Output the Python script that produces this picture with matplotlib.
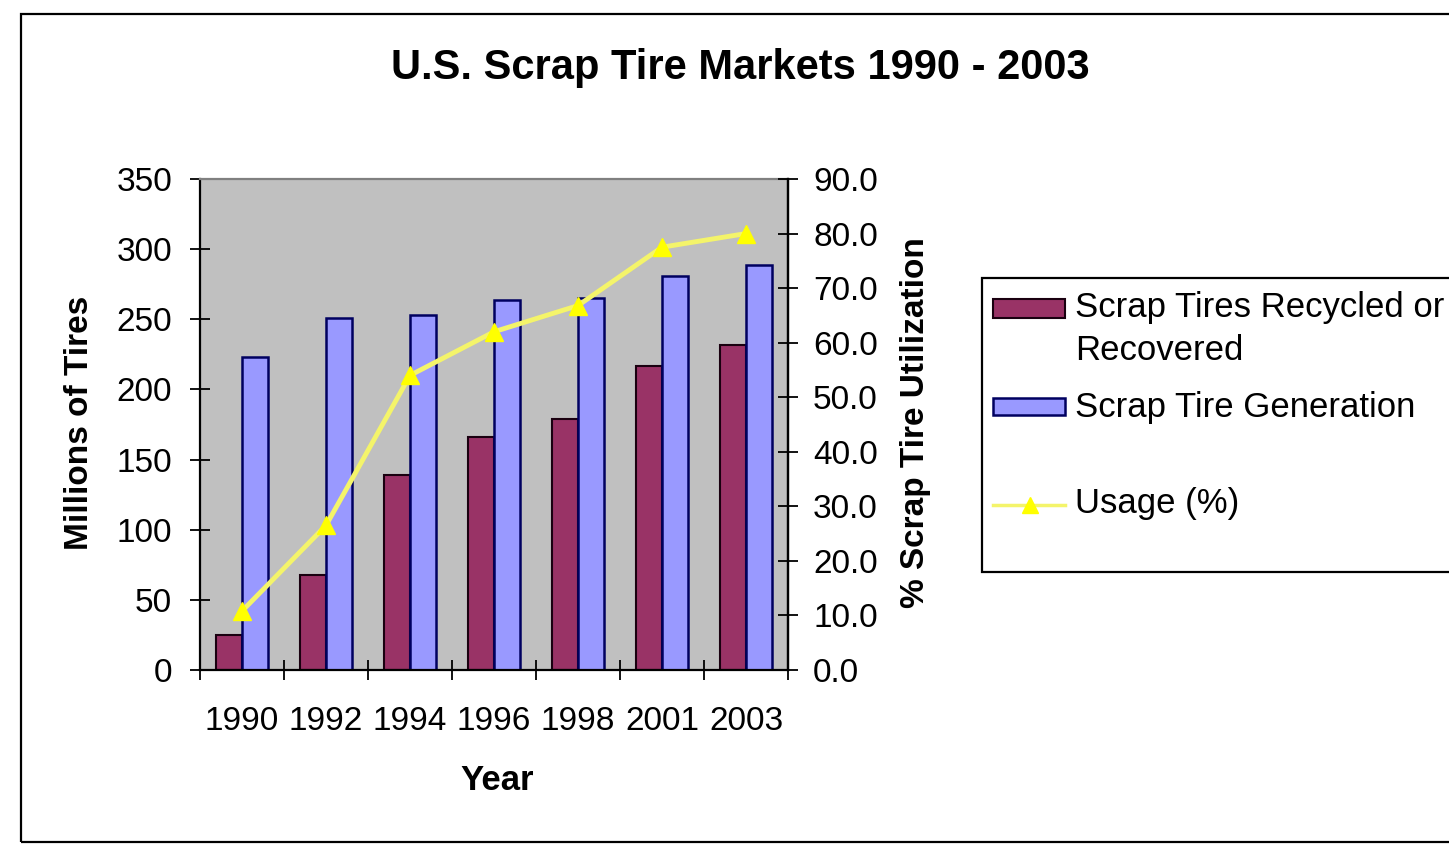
import matplotlib
matplotlib.use("Agg")
import matplotlib.pyplot as plt
from matplotlib.patches import Rectangle
from matplotlib.lines import Line2D

plt.rcParams['font.family'] = ['Liberation Sans', 'DejaVu Sans']

# Data
years = ['1990', '1992', '1994', '1996', '1998', '2001', '2003']
recycled = [25, 68, 139, 166, 179, 217, 232]          # millions of tires
generated = [223, 251, 253, 264, 265, 281, 289]       # millions of tires
usage_pct = [10.8, 26.5, 54.0, 62.0, 66.8, 77.5, 80.0]
left_ticks = [0, 50, 100, 150, 200, 250, 300, 350]
right_ticks = [0, 10, 20, 30, 40, 50, 60, 70, 80, 90]

RED = '#993366'
BLUE = '#9999FF'
YELLOW = '#FFFF00'
LINE_YELLOW = '#F4F46A'

W, H = 1449, 844
fig = plt.figure(figsize=(W / 100, H / 100), dpi=100)
fig.patch.set_facecolor('white')

def fx(px):
    return px / W

def fy(py):
    return 1 - py / H

# outer chart border
fig.patches.append(Rectangle((fx(21), fy(842)), 1.2, fy(14) - fy(842),
                             transform=fig.transFigure, fill=False,
                             edgecolor='black', linewidth=1.6, clip_on=False))

ax = fig.add_axes([fx(200), fy(670), fx(788) - fx(200), fy(179) - fy(670)])
ax.set_facecolor('#C0C0C0')

x = list(range(len(years)))
bw = 0.315
ax.bar([i - bw / 2 for i in x], recycled, width=bw, color=RED,
       edgecolor='#1a0010', linewidth=1.5, zorder=2)
ax.bar([i + bw / 2 for i in x], generated, width=bw, color=BLUE,
       edgecolor='#000060', linewidth=1.8, zorder=2)

ax.set_xlim(-0.5, len(years) - 0.5)
ax.set_ylim(0, 350)
ax.set_yticks(left_ticks)
ax.set_yticklabels([str(v) for v in left_ticks])
ax.tick_params(axis='y', direction='inout', length=14, width=1.3,
               pad=13, labelsize=24, colors='black')

ax.set_xticks(x)
ax.set_xticklabels(years)
ax.tick_params(axis='x', which='major', length=0, pad=26, labelsize=24)
ax.set_xticks([i - 0.5 for i in range(len(years) + 1)], minor=True)
ax.tick_params(axis='x', which='minor', direction='inout', length=14, width=1.3)

for s in ('left', 'bottom', 'right'):
    ax.spines[s].set_color('black')
    ax.spines[s].set_linewidth(1.6)
ax.spines['top'].set_color('#808080')
ax.spines['top'].set_linewidth(1.6)

ax2 = ax.twinx()
ax2.plot(x, usage_pct, color=LINE_YELLOW, linewidth=3.5, marker='^',
         markersize=13, markerfacecolor=YELLOW, markeredgecolor=YELLOW,
         zorder=3)
ax2.set_ylim(0, 90)
ax2.set_yticks(right_ticks)
ax2.set_yticklabels([f'{v:.1f}' for v in right_ticks])
ax2.tick_params(axis='y', direction='inout', length=14, width=1.3,
                pad=11, labelsize=24, colors='black')
for s in ax2.spines.values():
    s.set_visible(False)
ax2.spines['right'].set_visible(True)
ax2.spines['right'].set_color('black')
ax2.spines['right'].set_linewidth(1.6)

# titles and axis labels
fig.text(fx(740), fy(68), 'U.S. Scrap Tire Markets 1990 - 2003',
         ha='center', va='center', fontsize=30, fontweight='bold')
fig.text(fx(80), fy(423), 'Millions of Tires', rotation=90,
         ha='center', va='center', fontsize=24, fontweight='bold')
fig.text(fx(915), fy(423), '% Scrap Tire Utilization', rotation=90,
         ha='center', va='center', fontsize=24, fontweight='bold')
fig.text(fx(497), fy(780), 'Year', ha='center', va='center',
         fontsize=25, fontweight='bold')

# legend box
fig.patches.append(Rectangle((fx(982), fy(572)), 1.2, fy(278) - fy(572),
                             transform=fig.transFigure, facecolor='white',
                             edgecolor='black', linewidth=1.6, clip_on=False))
fig.patches.append(Rectangle((fx(993), fy(318)), fx(1065) - fx(993),
                             fy(299) - fy(318), transform=fig.transFigure,
                             facecolor=RED, edgecolor='#1a0010', linewidth=1.5))
fig.patches.append(Rectangle((fx(993), fy(415)), fx(1065) - fx(993),
                             fy(398) - fy(415), transform=fig.transFigure,
                             facecolor=BLUE, edgecolor='#000060', linewidth=1.8))
fig.lines.append(Line2D([fx(993), fx(1065)], [fy(505), fy(505)],
                        transform=fig.transFigure, color=LINE_YELLOW,
                        linewidth=2.5))
fig.lines.append(Line2D([fx(1030)], [fy(505)], transform=fig.transFigure,
                        marker='^', markersize=11, color=YELLOW,
                        linestyle='none'))
leg_kw = dict(ha='left', va='center', fontsize=25)
fig.text(fx(1075), fy(308), 'Scrap Tires Recycled or', **leg_kw)
fig.text(fx(1075), fy(350), 'Recovered', **leg_kw)
fig.text(fx(1075), fy(407), 'Scrap Tire Generation', **leg_kw)
fig.text(fx(1075), fy(503), 'Usage (%)', **leg_kw)

fig.savefig('out.png', dpi=100)
